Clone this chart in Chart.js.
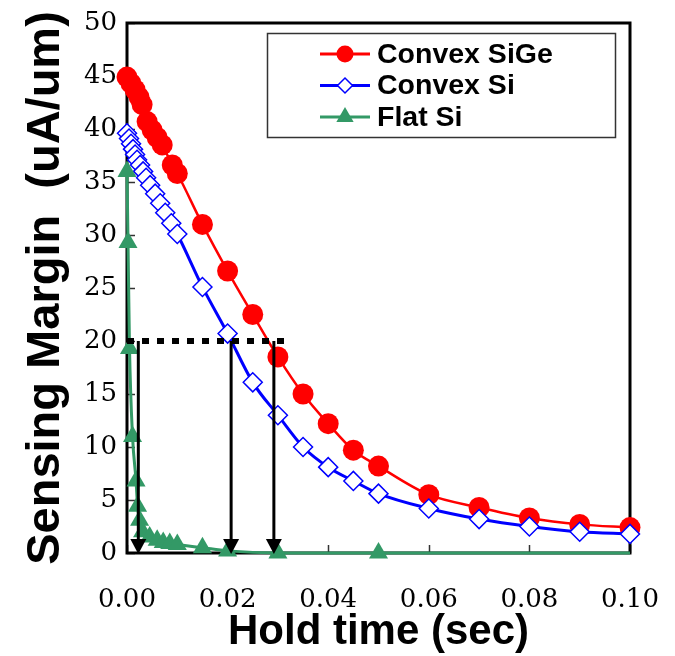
<!DOCTYPE html>
<html>
<head>
<meta charset="utf-8">
<script src="https://cdn.jsdelivr.net/npm/chart.js@4.4.1/dist/chart.umd.min.js"></script>
<style>
    html, body { margin: 0; padding: 0; background: #fff; }
    canvas { display: block; }
</style>
</head>
<body>
<canvas id="chart" width="675" height="656"></canvas>
<script>
// Hold time (sec) vs sensing margin (uA/um)
const sigeX = [0, 0.0008, 0.0016, 0.0024, 0.003, 0.004, 0.005, 0.006, 0.007, 0.009, 0.01,
    0.015, 0.02, 0.025, 0.03, 0.035, 0.04, 0.045, 0.05, 0.06, 0.07, 0.08, 0.09, 0.1];
const sigeY = [44.9, 44.3, 43.7, 43.0, 42.3, 40.7, 39.9, 39.2, 38.5, 36.6, 35.8,
    31.0, 26.6, 22.5, 18.5, 15.0, 12.2, 9.7, 8.2, 5.5, 4.3, 3.3, 2.7, 2.4];

const siX = [0, 0.0004, 0.0008, 0.0012, 0.0016, 0.002, 0.0026, 0.0032, 0.0038, 0.0046, 0.0056, 0.0066, 0.0076, 0.0088, 0.01,
    0.015, 0.02, 0.025, 0.03, 0.035, 0.04, 0.045, 0.05, 0.06, 0.07, 0.08, 0.09, 0.1];
const siY = [39.6, 39.1, 38.6, 38.1, 37.6, 37.1, 36.6, 36.0, 35.4, 34.7, 33.9, 33.0, 32.1, 31.1, 30.1,
    25.1, 20.7, 16.1, 13.0, 10.0, 8.1, 6.8, 5.6, 4.2, 3.2, 2.5, 2.0, 1.8];

const flatX = [0, 0.0002, 0.0005, 0.0011, 0.0018, 0.0021, 0.0025, 0.0031, 0.0045, 0.006, 0.0072, 0.0085, 0.01,
    0.015, 0.02, 0.03, 0.05, 0.1];
const flatY = [36.0, 29.3, 19.3, 11.0, 6.8, 4.4, 3.1, 2.0, 1.5, 1.2, 1.0, 0.9, 0.8,
    0.5, 0.2, 0.0, 0.0, 0.0];

const seriesNames = ['Convex SiGe', 'Convex Si', 'Flat Si'];

// 20 uA/um criterion and the retention times
const criterionY = 20;
const criterionEndX = 0.032;
const arrowX = [0.00225, 0.0207, 0.0292];

const xTicks = [0, 0.02, 0.04, 0.06, 0.08, 0.1];

const toPoints = (xs, ys) => xs.map((x, i) => ({ x: x, y: ys[i] }));

const decor = {
    id: 'decor',
    beforeDatasetsDraw(chart) {
        const { ctx, chartArea: a, scales: { x, y } } = chart;
        ctx.save();
        // inner tick marks
        ctx.strokeStyle = '#333';
        ctx.lineWidth = 1.5;
        y.ticks.forEach(t => {
            const py = Math.round(y.getPixelForValue(t.value)) + 0.5;
            ctx.beginPath(); ctx.moveTo(a.left, py); ctx.lineTo(a.left + 8, py); ctx.stroke();
        });
        x.ticks.forEach(t => {
            const px = Math.round(x.getPixelForValue(t.value)) + 0.5;
            ctx.beginPath(); ctx.moveTo(px, a.bottom); ctx.lineTo(px, a.bottom - 8); ctx.stroke();
        });
        // plot frame
        ctx.strokeStyle = '#000';
        ctx.lineWidth = 3;
        ctx.strokeRect(a.left, a.top, a.right - a.left, a.bottom - a.top);
        ctx.restore();
    },
    afterDatasetsDraw(chart) {
        const { ctx, scales: { x, y } } = chart;
        ctx.save();
        // dotted criterion line
        const py = y.getPixelForValue(criterionY);
        ctx.strokeStyle = '#000';
        ctx.lineWidth = 6;
        ctx.setLineDash([7, 8]);
        ctx.beginPath();
        ctx.moveTo(x.getPixelForValue(0), py);
        ctx.lineTo(x.getPixelForValue(criterionEndX), py);
        ctx.stroke();
        ctx.setLineDash([]);

        // arrows down to the time axis
        const yEnd = y.getPixelForValue(0) + 1;
        arrowX.forEach(v => {
            const px = x.getPixelForValue(v);
            ctx.lineWidth = 3;
            ctx.beginPath();
            ctx.moveTo(px, py);
            ctx.lineTo(px, yEnd - 12);
            ctx.stroke();
            ctx.fillStyle = '#000';
            ctx.beginPath();
            ctx.moveTo(px, yEnd);
            ctx.lineTo(px - 8, yEnd - 15);
            ctx.lineTo(px + 8, yEnd - 15);
            ctx.closePath();
            ctx.fill();
        });

        // legend box
        const lx = 267.5, ly = 33.5, lw = 348, lh = 104;
        ctx.fillStyle = '#fff';
        ctx.fillRect(lx, ly, lw, lh);
        ctx.strokeStyle = '#333';
        ctx.lineWidth = 1.5;
        ctx.strokeRect(lx, ly, lw, lh);

        const legendRadius = [8.5, 7.5, 10];
        chart.data.datasets.forEach((ds, i) => {
            const cy = 54 + i * 31.5;
            ctx.strokeStyle = ds.borderColor;
            ctx.lineWidth = 3;
            ctx.beginPath();
            ctx.moveTo(320, cy);
            ctx.lineTo(370, cy);
            ctx.stroke();
            ctx.fillStyle = ds.pointBackgroundColor;
            ctx.strokeStyle = ds.pointBorderColor;
            ctx.lineWidth = ds.pointBorderWidth;
            Chart.helpers.drawPoint(ctx, {
                pointStyle: ds.pointStyle,
                radius: legendRadius[i],
                rotation: 0,
                borderWidth: ds.pointBorderWidth
            }, 345, cy);
            ctx.fillStyle = '#000';
            ctx.font = 'bold 28.5px "Liberation Sans", Arial, sans-serif';
            ctx.textBaseline = 'middle';
            ctx.textAlign = 'left';
            ctx.fillText(ds.label, 377, cy + 1);
        });
        ctx.restore();
    },
    afterDraw(chart) {
        const { ctx, chartArea: a } = chart;
        ctx.save();
        ctx.translate(59, (a.top + a.bottom) / 2);
        ctx.rotate(-Math.PI / 2);
        ctx.fillStyle = '#000';
        ctx.font = 'bold 47px "Liberation Sans", Arial, sans-serif';
        ctx.textAlign = 'center';
        ctx.textBaseline = 'alphabetic';
        ctx.fillText('Sensing Margin  (uA/um)', 0, 0);
        ctx.restore();
    }
};

const tickFont = { family: '"DejaVu Serif", serif', size: 26 };

new Chart(document.getElementById('chart'), {
    type: 'line',
    data: {
        datasets: [
            {
                label: seriesNames[0],
                data: toPoints(sigeX, sigeY),
                borderColor: '#ff0000',
                borderWidth: 2.5,
                pointStyle: 'circle',
                pointRadius: 10.5,
                pointBackgroundColor: '#ff0000',
                pointBorderColor: '#ff0000',
                pointBorderWidth: 0,
                cubicInterpolationMode: 'monotone',
                order: 3,
                clip: false
            },
            {
                label: seriesNames[1],
                data: toPoints(siX, siY),
                borderColor: '#0000ff',
                borderWidth: 3,
                pointStyle: 'rectRot',
                pointRadius: 9.5,
                pointBackgroundColor: '#ffffff',
                pointBorderColor: '#0000ff',
                pointBorderWidth: 1.5,
                cubicInterpolationMode: 'monotone',
                order: 2,
                clip: false
            },
            {
                label: seriesNames[2],
                data: toPoints(flatX, flatY),
                borderColor: '#339966',
                borderWidth: 3,
                pointStyle: 'triangle',
                pointRadius: c => (c.raw && c.raw.x > 0.07 ? 0 : 11),
                pointBackgroundColor: '#339966',
                pointBorderColor: '#339966',
                pointBorderWidth: 0,
                cubicInterpolationMode: 'monotone',
                order: 1,
                clip: false
            }
        ]
    },
    options: {
        responsive: false,
        animation: false,
        devicePixelRatio: 1,
        layout: { padding: { top: 23, right: 45, left: 0, bottom: 0 } },
        plugins: {
            legend: { display: false },
            tooltip: { enabled: false }
        },
        scales: {
            x: {
                type: 'linear',
                min: 0,
                max: 0.1,
                afterBuildTicks: s => { s.ticks = xTicks.map(v => ({ value: v })); },
                afterFit: s => { s.height = 103; s.paddingLeft = 0; s.paddingRight = 0; },
                grid: { display: false, drawTicks: false },
                border: { display: false },
                ticks: {
                    color: '#000',
                    font: tickFont,
                    padding: 32,
                    maxRotation: 0,
                    callback: v => Number(v).toFixed(2)
                },
                title: {
                    display: true,
                    text: 'Hold time (sec)',
                    color: '#000',
                    font: { family: '"Liberation Sans", Arial, sans-serif', size: 42, weight: 'bold', lineHeight: 1 },
                    padding: { top: 0, bottom: 3 }
                }
            },
            y: {
                min: 0,
                max: 50,
                afterFit: s => { s.width = 127; s.paddingTop = 0; s.paddingBottom = 0; },
                grid: { display: false, drawTicks: false },
                border: { display: false },
                ticks: { stepSize: 5, color: '#000', font: tickFont, padding: 10 }
            }
        }
    },
    plugins: [decor]
});
</script>
</body>
</html>
